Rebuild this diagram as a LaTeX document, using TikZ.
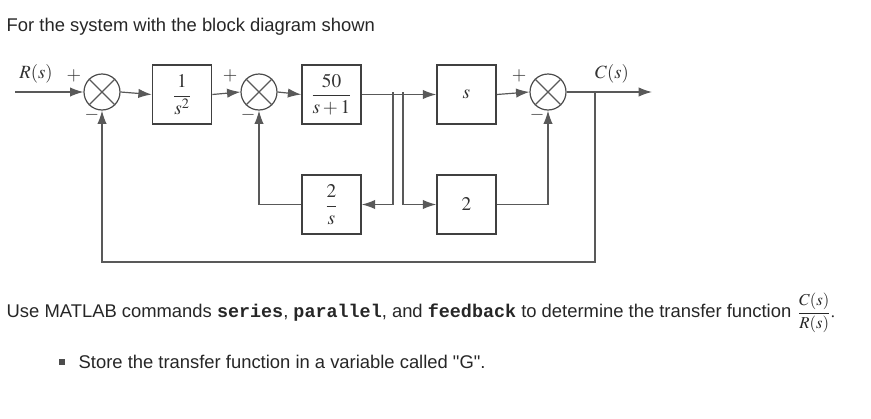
\documentclass[tikz,border=0pt]{standalone}
\usepackage{mathptmx}
\usepackage{fontspec}
\setmainfont{Liberation Serif}
\newfontfamily\sansf{Liberation Sans}
\newfontfamily\monof{Liberation Mono}
\usetikzlibrary{arrows.meta}
\begin{document}
\begin{tikzpicture}[x=0.75pt,y=-0.75pt,
  ln/.style={draw=black!65,line width=0.9pt},
  arr/.style={ln,-{Latex[length=10pt,width=7pt]}},
  blk/.style={draw=black!75,line width=1.2pt,minimum width=44.25pt,minimum height=44.25pt,inner sep=0pt,font=\fontsize{14.5}{15}\selectfont,text=black!80},
  sum/.style={circle,draw=black!70,line width=0.9pt,minimum size=27pt,inner sep=0pt},
  sgn/.style={font=\fontsize{14}{14}\selectfont,text=black!80},
  para/.style={anchor=west,font=\sansf\fontsize{13.8}{16}\selectfont,text=black!85}]
\useasboundingbox (0,0) rectangle (871,418);
\node[para] (t1) at (2,27) {For the system with the block diagram shown};
% sums
\node[sum] (s1) at (102,92) {};
\node[sum] (s2) at (259,92) {};
\node[sum] (s3) at (548,92) {};
\foreach \s in {s1,s2,s3}{\draw[ln] (\s.north west)--(\s.south east) (\s.north east)--(\s.south west);}
% blocks
\node[blk] (b1) at (182,94.5) {$\displaystyle\frac{1}{s^2}$};
\node[blk] (b2) at (331.5,94.5) {$\displaystyle\frac{50}{s+1}$};
\node[blk] (b3) at (466.5,94.5) {$s$};
\node[blk] (b4) at (331.5,204.5) {$\displaystyle\frac{2}{s}$};
\node[blk] (b5) at (466.5,204.5) {$2$};
\coordinate (rin) at (15,92);
\coordinate (out) at (652,92);
\coordinate (j1) at (393,92);
\coordinate (j2) at (403,92);
\coordinate (jo) at (595,92);
\node[sgn] (rl) at (36,74) {$R(s)$};
\node[sgn] (cl) at (612,74) {$C(s)$};
\node[sgn] (p1) at (74,76) {$+$};
\node[sgn] (m1) at (92,115) {$-$};
\node[sgn] (p2) at (230,76) {$+$};
\node[sgn] (m2) at (248,115) {$-$};
\node[sgn] (p3) at (519,76) {$+$};
\node[sgn] (m3) at (537,115) {$-$};
\draw[arr] (rin) -- (s1.west);
\draw[arr] (s1.east) -- (b1.west);
\draw[arr] (b1.east) -- (s2.west);
\draw[arr] (s2.east) -- (b2.west);
\draw[arr] (b2.east) -- (b3.west);
\draw[arr] (b3.east) -- (s3.west);
\draw[arr] (s3.east) -- (out);
\draw[arr] (j1) |- (b4.east);
\draw[arr] (j2) |- (b5.west);
\draw[arr] (b4.west) -| (s2.south);
\draw[arr] (b5.east) -| (s3.south);
\draw[arr] (jo) |- (102,262) -- (s1.south);
% bottom text
\node[para] (t2) at (2,313) {Use MATLAB commands {\monof\bfseries series}, {\monof\bfseries parallel}, and {\monof\bfseries feedback} to determine the transfer function};
\node[anchor=west,inner sep=1pt,font=\fontsize{12.5}{14}\selectfont,text=black!85] (fr) at (t2.east) {$\displaystyle\frac{C(s)}{R(s)}$.};
\fill[black!70] (59,359) rectangle (65,365);
\node[para] (t3) at (74,362) {Store the transfer function in a variable called "G".};
\end{tikzpicture}
\end{document}
